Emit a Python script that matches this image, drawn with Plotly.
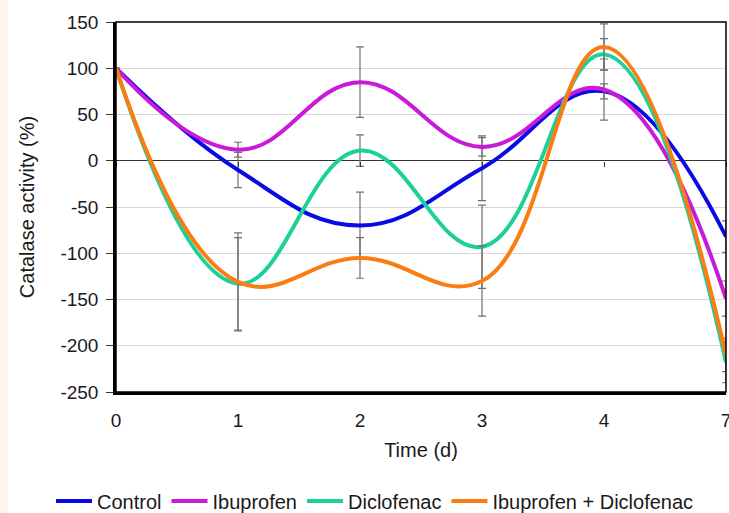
import plotly.graph_objects as go

# ---- data ----
time_labels = ["0", "1", "2", "3", "4", "7"]
x_pos = [0, 1, 2, 3, 4, 5]
y_ticks = [150, 100, 50, 0, -50, -100, -150, -200, -250]
y_tick_labels = ["150", "100", "50", "0", "-50", "-100", "-150", "-200", "-250"]

control = [100, -10, -70, -8, 75, -82]
ibuprofen = [100, 12, 85, 15, 77, -149]
diclofenac = [100, -133, 11, -93, 115, -218]
ibu_dic = [100, -131, -105, -130, 123, -210]

control_err = [0, 19, 36, 35, 8, 17]
ibuprofen_err = [0, 8, 38, 10, 33, 19]
diclofenac_err = [0, 50, 17, 45, 17, 22]
ibu_dic_err = [0, 53, 22, 38, 25, 18]

series_names = ["Control", "Ibuprofen", "Diclofenac", "Ibuprofen + Diclofenac"]
series_vals = [control, ibuprofen, diclofenac, ibu_dic]
series_errs = [control_err, ibuprofen_err, diclofenac_err, ibu_dic_err]
colors = ["#0a0ae6", "#c81ad9", "#1dcf98", "#fa7d14"]

FONT = "Liberation Sans, Arial, sans-serif"

fig = go.Figure()
for name, vals, errs, col in zip(series_names, series_vals, series_errs, colors):
    fig.add_trace(go.Scatter(
        x=x_pos, y=vals, name=name, mode="lines",
        line=dict(color=col, width=4, shape="spline", smoothing=1.2),
        error_y=dict(type="data", array=errs, visible=True,
                     color="#707070", thickness=1.2, width=4),
    ))

# invisible trace to activate the secondary axis that draws ticks on the zero line
fig.add_trace(go.Scatter(x=x_pos, y=control, xaxis="x2", mode="lines",
                         line=dict(width=0), opacity=0, showlegend=False,
                         hoverinfo="skip"))

fig.update_layout(
    width=729, height=513,
    margin=dict(l=116, r=3, t=22, b=121, autoexpand=False),
    paper_bgcolor="white", plot_bgcolor="white",
    font=dict(family=FONT, size=20, color="#1a1a1a"),
    showlegend=True,
    legend=dict(orientation="h", xref="paper", yref="paper",
                x=(51 - 116) / 610, xanchor="left", y=(392 - 501) / 370, yanchor="middle",
                font=dict(size=20, color="#1a1a1a"), itemwidth=36,
                bgcolor="rgba(0,0,0,0)", tracegroupgap=0),
    xaxis=dict(range=[0, 5], tickvals=x_pos, ticktext=time_labels,
               showgrid=False, zeroline=False, automargin=False,
               showline=True, linecolor="black", linewidth=2.5,
               ticks="outside", ticklen=9, tickcolor="rgba(0,0,0,0)",
               ticklabeloverflow="allow",
               tickfont=dict(size=19),
               title=dict(text="Time (d)", font=dict(size=20), standoff=14)),
    xaxis2=dict(range=[0, 5], overlaying="x", anchor="free", position=0.625,
                tickvals=x_pos, showticklabels=False, ticks="outside",
                ticklen=5, tickcolor="#333", tickwidth=1, automargin=False,
                showgrid=False, zeroline=False, showline=False),
    yaxis=dict(range=[-250, 150], tickvals=y_ticks, ticktext=y_tick_labels,
               showgrid=True, gridcolor="#d9d9d9", gridwidth=1,
               zeroline=True, zerolinecolor="#333", zerolinewidth=1.2,
               showline=True, linecolor="black", linewidth=2.5, automargin=False,
               ticks="outside", ticklen=7, tickcolor="#333", ticklabelstandoff=4,
               tickfont=dict(size=19),
               title=dict(text="Catalase activity (%)", font=dict(size=20), standoff=21)),
    shapes=[
        dict(type="rect", xref="paper", yref="paper", x0=0, x1=1, y0=0, y1=1,
             line=dict(color="black", width=1.5), fillcolor="rgba(0,0,0,0)", layer="above"),
        dict(type="rect", xref="paper", yref="paper", x0=-116/610, x1=-108/610,
             y0=-121/370, y1=(370+22)/370, line=dict(width=0), fillcolor="#fdf6f0",
             layer="below"),
    ],
)

fig.write_html("out.html", config={"displayModeBar": False},
               post_script="document.body.style.margin='0';document.body.style.overflow='hidden';")
